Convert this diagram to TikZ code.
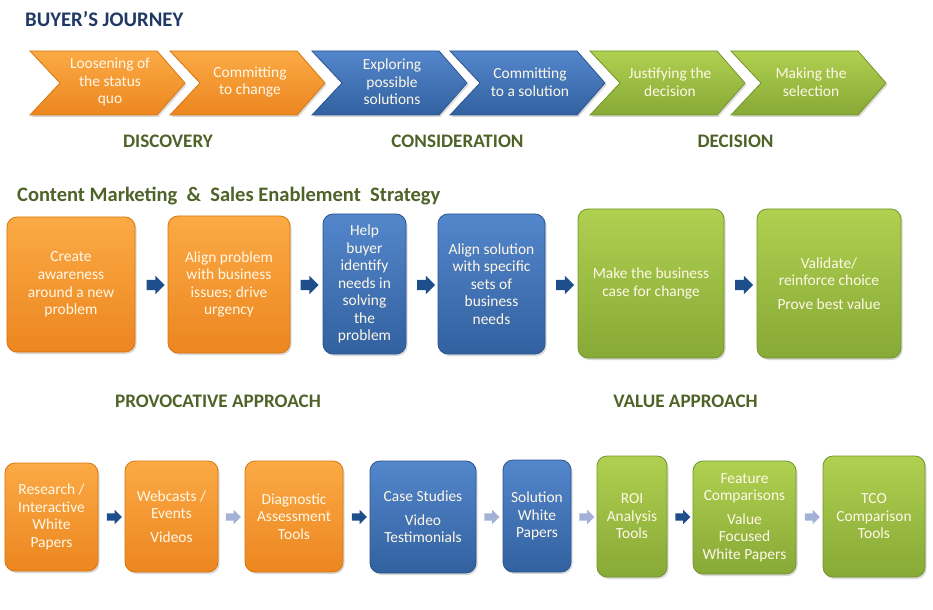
\documentclass[tikz,border=0pt]{standalone}
\usepackage{fontspec}
\setmainfont{Carlito}
\usetikzlibrary{shapes.arrows,shadows}
\definecolor{orT}{HTML}{FBAA45}
\definecolor{orM}{HTML}{F7962D}
\definecolor{orB}{HTML}{EC8620}
\definecolor{orD}{HTML}{D8770F}
\definecolor{blT}{HTML}{5486CC}
\definecolor{blM}{HTML}{3F73BE}
\definecolor{blB}{HTML}{31619F}
\definecolor{blD}{HTML}{2A5590}
\definecolor{grT}{HTML}{AFD050}
\definecolor{grM}{HTML}{9BBF3E}
\definecolor{grB}{HTML}{87A936}
\definecolor{grD}{HTML}{74952B}
\definecolor{navy}{HTML}{1F3864}
\definecolor{olive}{HTML}{4F6228}
\definecolor{darr}{HTML}{1F4E8C}
\definecolor{larr}{HTML}{A3B1D6}
\definecolor{btext}{HTML}{FFF8E8}
\newcommand{\boxfont}{\fontsize{15.5}{17.6}\selectfont}
\tikzset{
  shadowed/.style={drop shadow={opacity=0.3,shadow xshift=1.5bp,shadow yshift=-2bp}},
  abox/.style={rounded corners=10bp, line width=0.8bp, align=center, text=btext,
    font=\boxfont, inner sep=1bp, shadowed},
  obox/.style={abox, draw=orD, top color=orT, middle color=orM, bottom color=orB},
  bbox/.style={abox, draw=blD, top color=blT, middle color=blM, bottom color=blB},
  gbox/.style={abox, draw=grD, top color=grT, middle color=grM, bottom color=grB},
  ochev/.style={draw=orD, line width=0.8bp, top color=orT, middle color=orM, bottom color=orB, shadowed},
  bchev/.style={draw=blD, line width=0.8bp, top color=blT, middle color=blM, bottom color=blB, shadowed},
  gchev/.style={draw=grD, line width=0.8bp, top color=grT, middle color=grM, bottom color=grB, shadowed},
  ctext/.style={align=center, text=btext, font=\boxfont, inner sep=0pt},
  bigarr/.style={single arrow, fill=#1, minimum height=18bp, inner xsep=0pt,
    inner ysep=5bp, single arrow head extend=4bp},
  smallarr/.style={single arrow, fill=#1, minimum height=15bp, inner xsep=0pt,
    inner ysep=3.5bp, single arrow head extend=3.5bp},
  title/.style={font=\fontsize{20.8}{22}\selectfont\bfseries, text=navy, inner sep=0pt},
  phase/.style={font=\fontsize{19.2}{22}\selectfont\bfseries, text=olive, inner sep=0pt},
  subtitle/.style={font=\fontsize{20.6}{22}\selectfont\bfseries, text=olive, inner sep=0pt},
}
\begin{document}
\begin{tikzpicture}[x=1bp,y=-1bp]
\useasboundingbox (0,0) rectangle (933,610);
% ---------- Buyer's journey
\node[title, anchor=west] (jt) at (25,19) {BUYER’S JOURNEY};
\foreach \x/\st in {30/ochev,170/ochev,312/bchev,450/bchev,590/gchev,731/gchev}{
  \path[\st] (\x,51) -- (\x+127,51) -- (\x+155,83) -- (\x+127,115) -- (\x,115) -- (\x+30,83) -- cycle;
}
\node[ctext] (c1) at (110,82) {Loosening of\\the status\\quo};
\node[ctext] (c2) at (250,82) {Committing\\to change};
\node[ctext] (c3) at (392,82) {Exploring\\possible\\solutions};
\node[ctext] (c4) at (530,82) {Committing\\to a solution};
\node[ctext] (c5) at (670,82) {Justifying the\\decision};
\node[ctext] (c6) at (811,82) {Making the\\selection};
\node[phase] (p1) at (168,141.5) {DISCOVERY};
\node[phase] (p2) at (457.5,141.5) {CONSIDERATION};
\node[phase] (p3) at (735.5,141.5) {DECISION};
% ---------- Strategy
\node[subtitle, anchor=west] (st) at (17,196) {Content Marketing \ \& \ Sales Enablement \ Strategy};
\node[obox, minimum width=128bp, minimum height=135bp] (m1) at (71,284.5) {Create\\awareness\\around a new\\problem};
\node[obox, minimum width=122bp, minimum height=137bp] (m2) at (229,284.5) {Align problem\\with business\\issues; drive\\urgency};
\node[bbox, minimum width=83bp, minimum height=140bp] (m3) at (364.5,284) {Help\\buyer\\identify\\needs in\\solving\\the\\problem};
\node[bbox, minimum width=107bp, minimum height=140bp] (m4) at (491.5,284) {Align solution\\with specific\\sets of\\business\\needs};
\node[gbox, minimum width=146bp, minimum height=149bp] (m5) at (651,283.5) {Make the business\\case for change};
\node[gbox, minimum width=144bp, minimum height=149bp] (m6) at (829,283.5) {Validate/\\reinforce choice\\[6bp]Prove best value};
\node[bigarr=darr] (ma1) at (153,285) {};
\node[bigarr=darr] (ma2) at (307,285) {};
\node[bigarr=darr] (ma3) at (423.5,285) {};
\node[bigarr=darr] (ma4) at (562.5,285) {};
\node[bigarr=darr] (ma5) at (741.5,285) {};
\node[phase] (pa) at (218,401) {PROVOCATIVE APPROACH};
\node[phase] (va) at (685.5,401) {VALUE APPROACH};
% ---------- Content types
\node[obox, minimum width=93bp, minimum height=108bp] (b1) at (51.5,517) {Research /\\Interactive\\White\\Papers};
\node[obox, minimum width=93bp, minimum height=111bp] (b2) at (171.5,516.5) {Webcasts /\\Events\\[6bp]Videos};
\node[obox, minimum width=98bp, minimum height=111bp] (b3) at (294,516.5) {Diagnostic\\Assessment\\Tools};
\node[bbox, minimum width=106bp, minimum height=112bp] (b4) at (423,517) {Case Studies\\[6bp]Video\\Testimonials};
\node[bbox, minimum width=68bp, minimum height=112bp] (b5) at (537,516) {Solution\\White\\Papers};
\node[gbox, minimum width=70bp, minimum height=121bp] (b6) at (632,516.5) {ROI\\Analysis\\Tools};
\node[gbox, minimum width=103bp, minimum height=113bp] (b7) at (744.5,517.5) {Feature\\Comparisons\\[6bp]Value\\Focused\\White Papers};
\node[gbox, minimum width=102bp, minimum height=121bp] (b8) at (874,516.5) {TCO\\Comparison\\Tools};
\node[smallarr=darr] (ba1) at (112.5,517) {};
\node[smallarr=larr] (ba2) at (231.5,517) {};
\node[smallarr=darr] (ba3) at (357.5,517) {};
\node[smallarr=larr] (ba4) at (490,517) {};
\node[smallarr=larr] (ba5) at (585,517) {};
\node[smallarr=darr] (ba6) at (681,517) {};
\node[smallarr=larr] (ba7) at (810.5,517) {};
\end{tikzpicture}
\end{document}
